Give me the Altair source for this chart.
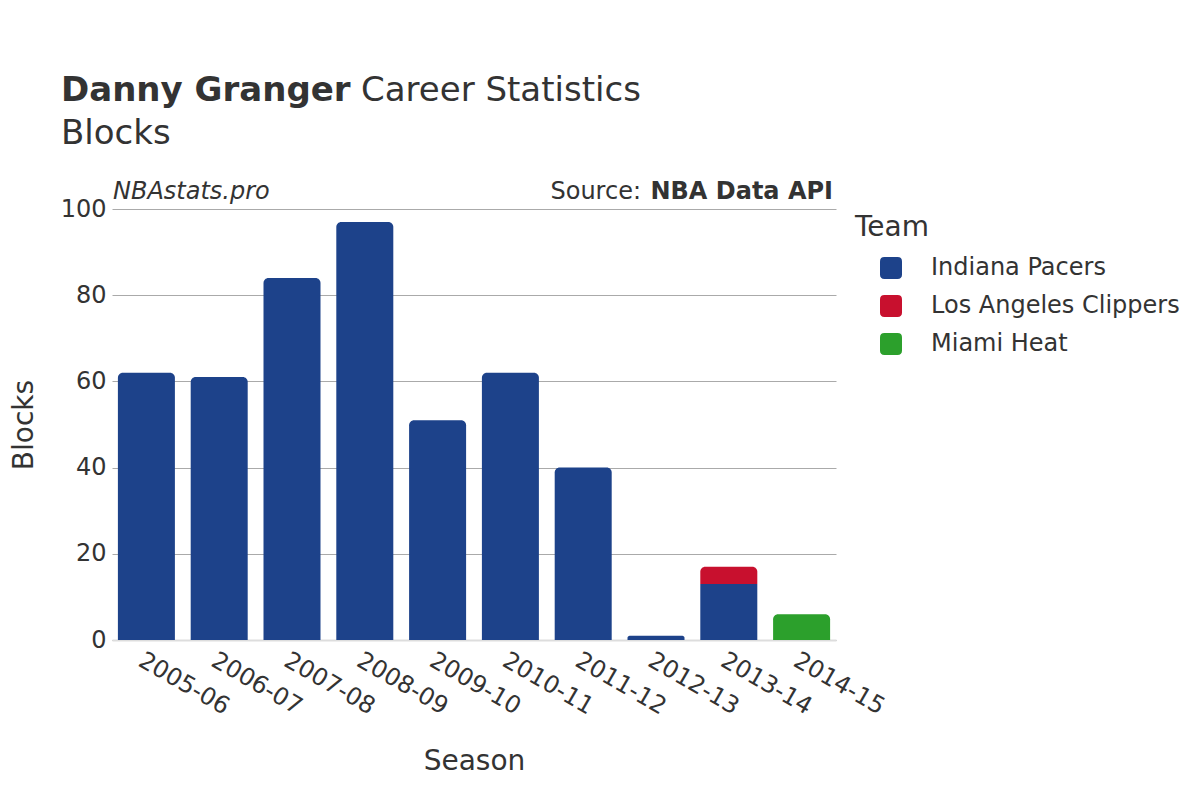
import altair as alt
import pandas as pd

seasons = ["2005-06", "2006-07", "2007-08", "2008-09", "2009-10", "2010-11",
           "2011-12", "2012-13", "2013-14", "2013-14", "2014-15"]
teams = ["Indiana Pacers"] * 9 + ["Los Angeles Clippers", "Miami Heat"]
blocks = [62, 61, 84, 97, 51, 62, 40, 1, 13, 4, 6]

team_names = ["Indiana Pacers", "Los Angeles Clippers", "Miami Heat"]
team_colors = ["#1D428A", "#C8102E", "#2CA02C"]
season_order = ["2005-06", "2006-07", "2007-08", "2008-09", "2009-10",
                "2010-11", "2011-12", "2012-13", "2013-14", "2014-15"]
y_ticks = [0, 20, 40, 60, 80, 100]

df = pd.DataFrame({"Season": seasons, "Team": teams, "Blocks": blocks})
df["order"] = df["Team"].map({t: i for i, t in enumerate(team_names)})
df["top"] = (df.groupby("Season").cumcount(ascending=False) == 0).astype(int)

FONT = "DejaVu Sans"
TXT = "#333333"
rounded_square = "M-0.6,-1H0.6Q1,-1,1,-0.6V0.6Q1,1,0.6,1H-0.6Q-1,1,-1,0.6V-0.6Q-1,-1,-0.6,-1Z"

x_enc = alt.X("Season:N", sort=season_order,
              scale=alt.Scale(paddingInner=0.217, paddingOuter=0.081),
              axis=alt.Axis(title="Season", labelAngle=30, labelAlign="left",
                            labelBaseline="top", labelPadding=8, ticks=False,
                            domain=True, domainColor="#dddddd", domainWidth=2,
                            labelFontSize=24, titleFontSize=28, titlePadding=29,
                            titleFontWeight="normal", grid=False,
                            labelColor=TXT, titleColor=TXT))
y_enc = alt.Y("y0:Q", scale=alt.Scale(domain=[0, 100]),
              axis=alt.Axis(title="Blocks", values=y_ticks, ticks=False, domain=False,
                            gridColor="#aaaaaa", gridWidth=1, labelPadding=6,
                            labelFontSize=24, titleFontSize=28, titlePadding=22,
                            titleFontWeight="normal", labelColor=TXT, titleColor=TXT))
color_enc = alt.Color("Team:N", scale=alt.Scale(domain=team_names, range=team_colors),
                      legend=alt.Legend(title="Team", orient="none", legendX=743, legendY=5,
                                        titleFontSize=28, titleFontWeight="normal",
                                        titleColor=TXT, labelColor=TXT,
                                        labelFontSize=24, labelLimit=400, symbolSize=484,
                                        symbolType=rounded_square, symbolOffset=24,
                                        labelOffset=28, rowPadding=14, titlePadding=14,
                                        symbolStrokeWidth=0, symbolOpacity=1))

base = alt.Chart(df).transform_stack(
    stack="Blocks", as_=["y0", "y1"], groupby=["Season"],
    sort=[alt.SortField("order", order="ascending")],
)

top_bars = base.transform_filter("datum.top == 1").mark_bar(
    cornerRadiusTopLeft=5, cornerRadiusTopRight=5
).encode(x=x_enc, y=y_enc, y2="y1:Q", color=color_enc)

low_bars = base.transform_filter("datum.top == 0").mark_bar().encode(
    x=x_enc, y=y_enc, y2="y1:Q", color=color_enc)


def txt(text, x, y, size, weight="normal", style="normal", align="left"):
    return alt.Chart(pd.DataFrame({"t": [text]})).mark_text(
        align=align, baseline="alphabetic", fontSize=size, fontWeight=weight,
        fontStyle=style, color=TXT, font=FONT
    ).encode(text="t:N", x=alt.value(x), y=alt.value(y))


layers = [
    top_bars,
    low_bars,
    txt("Danny Granger", -51, -108, 34, weight="bold"),
    txt("Career Statistics", 249, -108, 34),
    txt("Blocks", -51, -65, 34),
    txt("NBAstats.pro", 1, -10, 24, style="italic"),
    txt("Source:", 529, -10, 24, align="right"),
    txt("NBA Data API", 721, -10, 24, weight="bold", align="right"),
]

chart = alt.layer(*layers).properties(
    width=724, height=431,
    autosize=alt.AutoSizeParams(type="none"),
    padding={"left": 104, "top": 201, "right": 356, "bottom": 152},
).configure(font=FONT).configure_view(stroke=None)

chart.save("out.html", embed_options={"renderer": "svg", "actions": False})
